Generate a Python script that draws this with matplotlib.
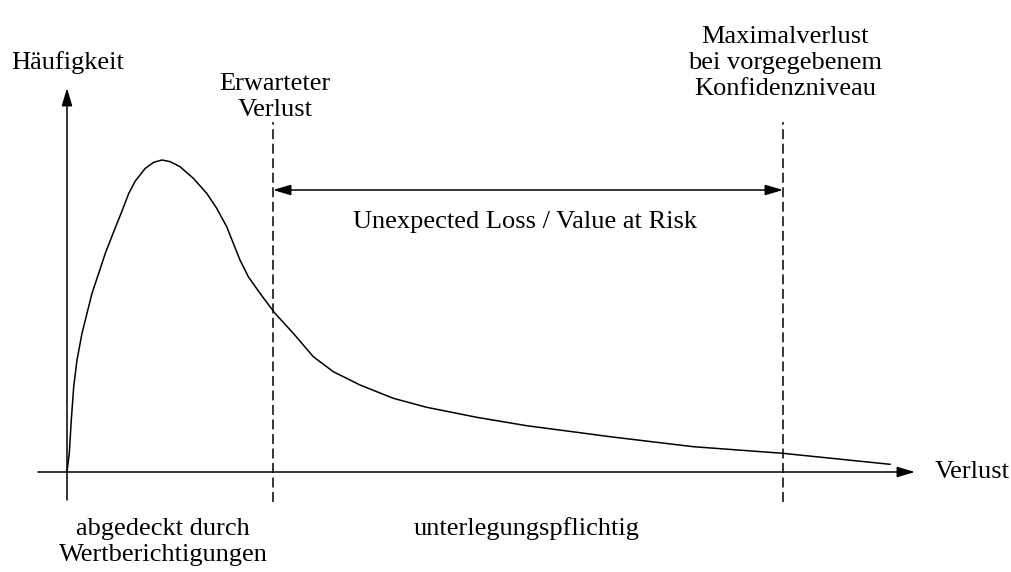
import matplotlib.pyplot as plt

plt.rcParams['font.family'] = ['Liberation Serif', 'DejaVu Serif']

# Verlustverteilung (schematisch), Ursprung = Achsenkreuz
loss = [0, 2.3, 4.3, 6.7, 10, 15, 20, 25, 31.7, 38.3, 46.7, 55, 61.7, 68.3,
        78.3, 86.7, 95, 103.3, 113, 126.3, 139.7, 149.7, 159.7, 166.3, 173,
        181.3, 193, 208, 226.3, 246.3, 266.3, 293, 326.3, 359.7, 409.7,
        459.7, 513, 543, 626.3, 715.7, 823]
freq = [0, 18.7, 52, 85.3, 112, 138.7, 158.7, 178.7, 198.7, 218.7, 240.3,
        261, 278.5, 291, 303.7, 309.7, 312, 310.3, 305.3, 293.7, 278.7,
        263.7, 245.3, 228.7, 212, 195.3, 178.7, 158.7, 138.7, 115.3, 100.3,
        87, 73.7, 64.7, 54.7, 46.3, 39.3, 35.3, 25.3, 18.7, 7.7]

expected_loss = 206
max_loss = 716

fig = plt.figure(figsize=(10.12, 5.72), dpi=100)
ax = fig.add_axes([0, 0, 1, 1])
ax.set_xlim(-67, 945)
ax.set_ylim(-100, 472)
ax.axis('off')

lw = 1.1
fs = 19
ls = 1.26
arrow = dict(arrowstyle='-|>,head_length=0.54,head_width=0.16', color='black',
             lw=lw, shrinkA=0, shrinkB=0, mutation_scale=20)
darrow = dict(arrowstyle='<|-|>,head_length=0.54,head_width=0.16', color='black',
              lw=lw, shrinkA=0, shrinkB=0, mutation_scale=20)

# Achsen
ax.annotate('', xy=(0, 384), xytext=(0, -28), arrowprops=arrow)
ax.annotate('', xy=(848, 0), xytext=(-29, 0), arrowprops=arrow)

# Kurve
ax.plot(loss, freq, color='black', lw=lw, solid_joinstyle='round')

# gestrichelte Linien
for xv in [expected_loss, max_loss]:
    ax.plot([xv, xv], [-30, 350], color='black', lw=lw, linestyle=(0, (6.5, 3)))

# Doppelpfeil
ax.annotate('', xy=(expected_loss, 282), xytext=(max_loss, 282), arrowprops=darrow)

# Beschriftungen
ax.text(1, 409, 'Häufigkeit', fontsize=fs, ha='center', va='center')
ax.text(expected_loss + 2, 375, 'Erwarteter\nVerlust', fontsize=fs,
        ha='center', va='center', linespacing=ls)
ax.text(max_loss + 2, 409, 'Maximalverlust\nbei vorgegebenem\nKonfidenzniveau',
        fontsize=fs, ha='center', va='center', linespacing=ls)
ax.text(458, 250, 'Unexpected Loss / Value at Risk', fontsize=fs,
        ha='center', va='center')
ax.text(868, 0, 'Verlust', fontsize=fs, ha='left', va='center')
ax.text(96, -70, 'abgedeckt durch\nWertberichtigungen', fontsize=fs,
        ha='center', va='center', linespacing=ls)
ax.text(460, -57, 'unterlegungspflichtig', fontsize=fs, ha='center', va='center')

plt.savefig('out.png', dpi=100)
